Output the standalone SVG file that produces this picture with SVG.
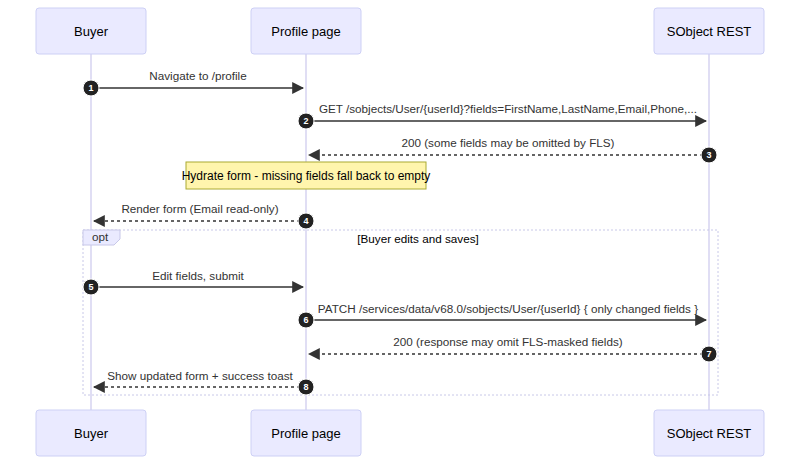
<svg xmlns="http://www.w3.org/2000/svg" width="800" height="465" viewBox="0 0 800 465">
<style>
.actor{fill:#eaeaff;stroke:#cdd0f5;stroke-width:1}
.at{font-family:"Liberation Sans",Arial,sans-serif;font-size:13px;fill:#000;text-anchor:middle;dominant-baseline:central}
.life{stroke:#d6d3f0;stroke-width:1.5}
.msg{stroke:#333;stroke-width:1.5;fill:none}
.dash{stroke-dasharray:3,3}
.mt{font-family:"Liberation Sans",Arial,sans-serif;font-size:11.7px;fill:#333;text-anchor:middle}
.num circle{fill:#222;stroke:#fff;stroke-width:1}
.nt{font-family:"Liberation Sans",Arial,sans-serif;font-size:9px;fill:#fff;text-anchor:middle;dominant-baseline:central;font-weight:bold}
</style>
<defs>
<marker id="ah" viewBox="0 0 10 10" refX="9" refY="5" markerWidth="8" markerHeight="8" orient="auto"><path d="M0,0L10,5L0,10z" fill="#333"/></marker>
</defs>
<g id="lifelines">
<line class="life" x1="91" y1="54" x2="91" y2="410"/>
<line class="life" x1="306" y1="54" x2="306" y2="410"/>
<line class="life" x1="709" y1="54" x2="709" y2="410"/>
</g>
<g id="opt">
<rect x="83" y="230" width="635" height="165" fill="none" stroke="#c8c8e8" stroke-dasharray="2,2"/>
<path d="M83,230H120V239L114,245H83Z" fill="#eaeaff" stroke="#c8c8e8"/>
<text x="100" y="241" class="mt">opt</text>
<text x="418" y="243" class="mt" style="fill:#000">[Buyer edits and saves]</text>
</g>
<g id="buyer"><rect class="actor" x="36" y="8" width="110" height="46" rx="3"/><text class="at" x="91" y="31">Buyer</text></g>
<g id="profile"><rect class="actor" x="251" y="8" width="110" height="46" rx="3"/><text class="at" x="306" y="31">Profile page</text></g>
<g id="sobject"><rect class="actor" x="654" y="8" width="110" height="46" rx="3"/><text class="at" x="709" y="31">SObject REST</text></g>
<g id="buyer-bottom"><rect class="actor" x="36" y="410" width="110" height="46" rx="3"/><text class="at" x="91" y="433">Buyer</text></g>
<g id="profile-bottom"><rect class="actor" x="251" y="410" width="110" height="46" rx="3"/><text class="at" x="306" y="433">Profile page</text></g>
<g id="sobject-bottom"><rect class="actor" x="654" y="410" width="110" height="46" rx="3"/><text class="at" x="709" y="433">SObject REST</text></g>
<g id="note">
<rect x="186" y="162" width="240" height="27" fill="#fff5ad" stroke="#aaaa33"/>
<text x="306" y="180" class="mt" style="fill:#000;font-size:12px">Hydrate form - missing fields fall back to empty</text>
</g>
<g id="connectors">
<line class="msg" x1="91" y1="88" x2="303" y2="88" marker-end="url(#ah)"/>
<text class="mt" x="198" y="80">Navigate to /profile</text>
<line class="msg" x1="306" y1="121" x2="706" y2="121" marker-end="url(#ah)"/>
<text class="mt" x="508" y="113">GET /sobjects/User/{userId}?fields=FirstName,LastName,Email,Phone,...</text>
<line class="msg dash" x1="709" y1="155" x2="309" y2="155" marker-end="url(#ah)"/>
<text class="mt" x="508" y="147">200 (some fields may be omitted by FLS)</text>
<line class="msg dash" x1="306" y1="221" x2="94" y2="221" marker-end="url(#ah)"/>
<text class="mt" x="200" y="213">Render form (Email read-only)</text>
<line class="msg" x1="91" y1="287" x2="303" y2="287" marker-end="url(#ah)"/>
<text class="mt" x="198" y="280">Edit fields, submit</text>
<line class="msg" x1="306" y1="320" x2="706" y2="320" marker-end="url(#ah)"/>
<text class="mt" x="508" y="313">PATCH /services/data/v68.0/sobjects/User/{userId} { only changed fields }</text>
<line class="msg dash" x1="709" y1="354" x2="309" y2="354" marker-end="url(#ah)"/>
<text class="mt" x="508" y="346">200 (response may omit FLS-masked fields)</text>
<line class="msg dash" x1="306" y1="387" x2="94" y2="387" marker-end="url(#ah)"/>
<text class="mt" x="200" y="380">Show updated form + success toast</text>
</g>
<g id="numbers" class="num">
<circle cx="91" cy="88" r="8"/><text class="nt" x="91" y="88">1</text>
<circle cx="306" cy="121" r="8"/><text class="nt" x="306" y="121">2</text>
<circle cx="709" cy="155" r="8"/><text class="nt" x="709" y="155">3</text>
<circle cx="306" cy="221" r="8"/><text class="nt" x="306" y="221">4</text>
<circle cx="91" cy="287" r="8"/><text class="nt" x="91" y="287">5</text>
<circle cx="306" cy="320" r="8"/><text class="nt" x="306" y="320">6</text>
<circle cx="709" cy="354" r="8"/><text class="nt" x="709" y="354">7</text>
<circle cx="306" cy="387" r="8"/><text class="nt" x="306" y="387">8</text>
</g>
</svg>
